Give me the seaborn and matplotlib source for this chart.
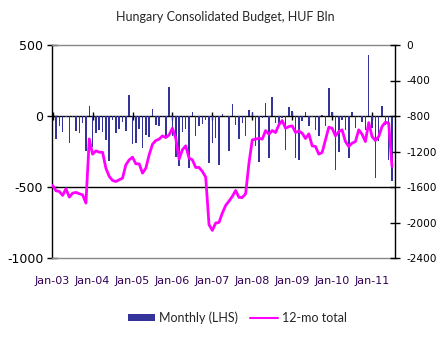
import numpy as np
import pandas as pd
import matplotlib
matplotlib.use("Agg")
import matplotlib.pyplot as plt
import seaborn as sns
from matplotlib.patches import Patch
from matplotlib.lines import Line2D

# Monthly consolidated budget balance, HUF bn (Jan-2003 .. Jul-2011)
monthly = [
    -45, -162, -73, -115, -7, -193, -7, -108, -120, -52, -249, 73,
    -219, -120, -96, -115, -167, -320, -30, -120, -92, -45, -108, 150,
    -200, -190, -92, -228, -132, -148, 52, -61, -68, -7, -143, 207,
    -143, -291, -355, -115, -92, -367, 31, -139, -73, -54, -26, -331,
    -190, -155, -348, 16, -7, -249, 87, -61, -162, -49, -143, 45,
    31, -214, -327, -16, 94, -296, 136, -49, -73, -12, -237, 66,
    38, -296, -308, -38, 31, -73, -7, -96, -143, 9, -68, 200,
    31, -383, -256, -30, -96, -296, 31, -85, -7, -45, -96, 432,
    -85, -437, -178, 73, -61, -313, -460,
]

# Rolling 12-month total, HUF bn
rolling_12m = [
    -1583, -1643, -1650, -1695, -1620, -1714, -1669, -1661, -1676, -1688, -1781, -1058,
    -1230, -1193, -1208, -1208, -1388, -1481, -1526, -1538, -1519, -1500, -1350, -1294,
    -1264, -1339, -1339, -1444, -1388, -1238, -1118, -1076, -1061, -1024, -1043, -1013,
    -938, -1050, -1286, -1181, -1136, -1275, -1294, -1380, -1380, -1425, -1489, -2025,
    -2089, -2006, -1999, -1894, -1808, -1759, -1706, -1639, -1718, -1718, -1676, -1331,
    -1069, -1061, -1050, -1061, -964, -1005, -964, -986, -900, -851, -938, -919,
    -911, -986, -968, -994, -1054, -1001, -1136, -1144, -1230, -1211, -1069, -926,
    -938, -1024, -975, -956, -1088, -1144, -1106, -1088, -956, -1005, -1088, -874,
    -1031, -1076, -1031, -919, -870, -881, -1369,
]

tick_labels = ["Jan-03", "Jan-04", "Jan-05", "Jan-06", "Jan-07",
               "Jan-08", "Jan-09", "Jan-10", "Jan-11"]
left_ticks = [-1000, -500, 0, 500]
right_ticks = [-2400, -2000, -1600, -1200, -800, -400, 0]

df = pd.DataFrame({
    "pos": np.arange(len(monthly)),
    "monthly": monthly,
    "total": rolling_12m,
})

sns.set_theme(style="white")
plt.rcParams["font.family"] = ["DejaVu Sans"]
plt.rcParams["axes.unicode_minus"] = False

W, H = 448, 337
fig = plt.figure(figsize=(W / 100, H / 100), dpi=100)
ax = fig.add_axes([52 / W, 1 - 258 / H, (395 - 52) / W, (258 - 45) / H])

bar_color = "#333399"
line_color = "#FF00FF"

sns.barplot(data=df, x="pos", y="monthly", native_scale=True, color=bar_color,
            saturation=1, width=0.45, linewidth=0, ax=ax)
ax.set_xlim(-0.2, 102.9)
ax.set_ylim(-1000, 500)
ax.set_yticks(left_ticks)
ax.set_yticklabels([str(v) for v in left_ticks], fontsize=9, color="black")
ax.tick_params(axis="y", direction="inout", length=6.5, width=1, color="black",
               pad=3, left=True)
ax.set_xlabel("")
ax.set_ylabel("")

year_pos = np.arange(0, len(monthly), 12)[:len(tick_labels)]
ax.set_xticks(year_pos)
ax.set_xticklabels(tick_labels, fontsize=8, color="#330055")
ax.tick_params(axis="x", length=0, pad=13)

for side in ("top", "bottom"):
    ax.spines[side].set_color("#888888")
    ax.spines[side].set_linewidth(1)
ax.spines["left"].set_color("black")
ax.spines["left"].set_linewidth(1)
ax.spines["right"].set_visible(False)

# zero line with year tick marks
y0, y1 = ax.get_ylim()
zero_frac = (0 - y0) / (y1 - y0)
sec = ax.secondary_xaxis(zero_frac)
sec.set_xticks(year_pos)
sec.set_xticklabels([])
sec.tick_params(direction="inout", length=6, width=1, color="black")
for sp in sec.spines.values():
    sp.set_color("black")
    sp.set_linewidth(1)

ax.axhline(-500, color="black", lw=1, zorder=1)

ax2 = ax.twinx()
sns.lineplot(data=df, x="pos", y="total", color=line_color, lw=2, ax=ax2)
ax2.set_ylim(-2400, 0)
ax2.set_yticks(right_ticks)
ax2.set_yticklabels([str(v) for v in right_ticks], fontsize=7.6, color="black")
ax2.tick_params(axis="y", direction="inout", length=6.5, width=1, color="black",
                pad=5, right=True)
ax2.set_xlabel("")
ax2.set_ylabel("")
for side in ("top", "bottom", "left"):
    ax2.spines[side].set_visible(False)
ax2.spines["right"].set_color("black")
ax2.spines["right"].set_linewidth(1)

fig.text(225 / W, 1 - 17 / H, "Hungary Consolidated Budget, HUF Bln",
         ha="center", va="center", fontsize=9, family=["Lato", "DejaVu Sans"])

handles = [Patch(facecolor=bar_color, edgecolor="none"),
           Line2D([], [], color=line_color, lw=1.5)]
fig.legend(handles, ["Monthly (LHS)", "12-mo total"], loc="center",
           bbox_to_anchor=(237 / W, 1 - 318 / H), ncol=2, frameon=False,
           prop={"family": ["Lato", "DejaVu Sans"], "size": 9},
           handlelength=2.2, handleheight=0.5, handletextpad=0.3,
           columnspacing=1.0)

fig.savefig("out.png", dpi=100)
